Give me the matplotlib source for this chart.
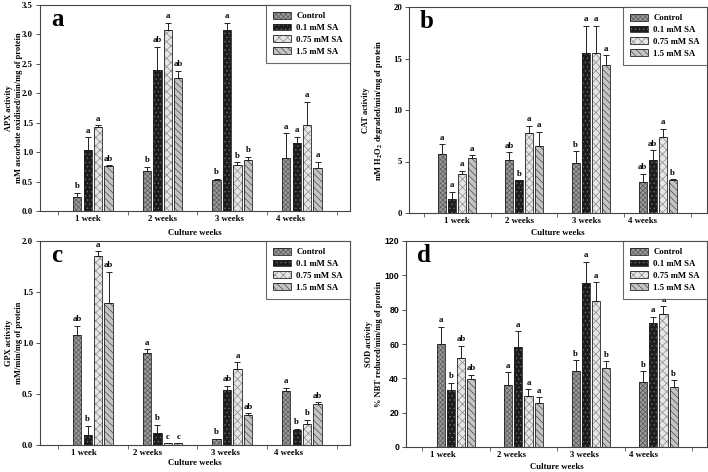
import numpy as np
import matplotlib
matplotlib.use("Agg")
import matplotlib.pyplot as plt

plt.rcParams['font.family'] = ['Liberation Serif', 'DejaVu Serif']
plt.rcParams['font.weight'] = 'bold'
plt.rcParams['mathtext.fontset'] = 'stix'
plt.rcParams['hatch.linewidth'] = 0.5

weeks = ["1 week", "2 weeks", "3 weeks", "4 weeks"]
treatments = ["Control", "0.1 mM SA", "0.75 mM SA", "1.5 mM SA"]

# rows = treatments, columns = weeks
apx_mean = [[0.23, 0.68, 0.52, 0.90],
            [1.03, 2.40, 3.08, 1.15],
            [1.43, 3.07, 0.79, 1.46],
            [0.76, 2.26, 0.87, 0.73]]
apx_err = [[0.08, 0.07, 0.03, 0.42],
           [0.22, 0.39, 0.12, 0.11],
           [0.03, 0.13, 0.04, 0.40],
           [0.02, 0.12, 0.05, 0.11]]
apx_letters = [["b", "b", "b", "a"],
               ["a", "ab", "a", "a"],
               ["a", "a", "b", "a"],
               ["ab", "ab", "b", "a"]]

cat_mean = [[5.7, 5.1, 4.85, 3.05],
            [1.4, 3.2, 15.5, 5.1],
            [3.8, 7.75, 15.5, 7.4],
            [5.35, 6.5, 14.4, 3.25]]
cat_err = [[1.0, 0.8, 1.15, 0.75],
           [0.65, 0.0, 2.7, 1.0],
           [0.3, 0.7, 2.7, 0.8],
           [0.25, 1.4, 0.9, 0.05]]
cat_letters = [["a", "ab", "b", "ab"],
               ["a", "b", "a", "ab"],
               ["a", "a", "a", "a"],
               ["a", "a", "a", "b"]]

gpx_mean = [[1.08, 0.90, 0.06, 0.53],
            [0.10, 0.12, 0.54, 0.15],
            [1.85, 0.02, 0.75, 0.21],
            [1.39, 0.015, 0.29, 0.40]]
gpx_err = [[0.09, 0.04, 0.0, 0.03],
           [0.09, 0.08, 0.04, 0.01],
           [0.05, 0.0, 0.06, 0.04],
           [0.31, 0.005, 0.02, 0.02]]
gpx_letters = [["ab", "a", "b", "a"],
               ["b", "b", "ab", "b"],
               ["a", "c", "a", "b"],
               ["ab", "c", "ab", "ab"]]

sod_mean = [[60, 36, 44, 38],
            [33, 58.5, 95.5, 72],
            [52, 30, 85, 77.5],
            [39.5, 25.5, 46, 35]]
sod_err = [[10, 7.5, 6.5, 6],
           [4.5, 9, 12.5, 4],
           [7, 3.5, 11, 4.5],
           [2.5, 3.5, 4, 4]]
sod_letters = [["a", "a", "b", "b"],
               ["b", "a", "a", "a"],
               ["ab", "a", "a", "a"],
               ["ab", "a", "b", "b"]]

faces = ['#9a9a9a', '#1c1c1c', '#e6e6e6', '#c4c4c4']
hatch_cols = ['#5a5a5a', '#6a6a6a', '#8a8a8a', '#4a4a4a']
hatches = ['xxxxxxx', '....', 'xxxx', '\\\\\\\\\\']
edge = '#222222'
fs = 6.3

W, H = 708, 472
fig = plt.figure(figsize=(W / 100, H / 100), dpi=100)


def px_axes(x0, x1, y0, y1):
    return fig.add_axes([x0 / W, 1 - y1 / H, (x1 - x0) / W, (y1 - y0) / H])


def panel(ax, mean, err, letters, ylim, ystep, yfmt, ylabel, tag, xlim, label_pos,
          sans_ticks=False, xlabelpad=4, ylabel_x=-0.07):
    x = np.arange(len(weeks))
    width = 0.12
    offs = [-0.225, -0.075, 0.075, 0.225]
    handles = []
    for i in range(len(treatments)):
        xs = x + offs[i]
        b1 = ax.bar(xs, mean[i], width, color=faces[i], edgecolor=hatch_cols[i],
                    hatch=hatches[i], linewidth=0)
        b2 = ax.bar(xs, mean[i], width, fill=False, edgecolor=edge, linewidth=0.6)
        ax.errorbar(xs, mean[i], yerr=[np.zeros(len(weeks)), err[i]], fmt='none',
                    ecolor=edge, elinewidth=0.7, capsize=2.5, capthick=0.7)
        for j in range(len(weeks)):
            ax.text(xs[j], mean[i][j] + err[i][j] + ylim * 0.012, letters[i][j],
                    ha='center', va='bottom', fontsize=fs, fontweight='bold')
        handles.append((b1.patches[0], b2.patches[0]))

    ax.set_ylim(0, ylim)
    ax.set_xlim(*xlim)
    ax.set_yticks(np.arange(0, ylim + ystep / 2, ystep))
    ax.yaxis.set_major_formatter(matplotlib.ticker.FormatStrFormatter(yfmt))
    ax.set_xticks(np.arange(-0.5, 4, 1.0))
    ax.set_xticklabels([])
    ax.set_xticks(label_pos, minor=True)
    ax.set_xticklabels(weeks, minor=True)
    ax.tick_params(axis='x', which='major', direction='out', length=3, width=0.6, color='#555555')
    ax.tick_params(axis='x', which='minor', length=0, labelsize=fs, pad=3)
    ax.tick_params(axis='y', direction='out', length=3, width=0.6, labelsize=fs, pad=2, color='#333333')
    if sans_ticks:
        for t in ax.get_yticklabels():
            t.set_family('Liberation Sans')
            t.set_fontweight('bold')
    for s in ax.spines.values():
        s.set_linewidth(0.8)
        s.set_color('#444444')
    ax.set_ylabel(ylabel, fontsize=6, fontweight='bold', linespacing=1.35)
    ax.yaxis.set_label_coords(ylabel_x, 0.5)
    ax.set_xlabel("Culture weeks", fontsize=fs, fontweight='bold', labelpad=xlabelpad)
    ax.text(0.035, 0.985, tag, transform=ax.transAxes, ha='left', va='top',
            fontsize=18, fontweight='bold')
    leg = ax.legend(handles, treatments, loc='upper right', borderaxespad=0.0,
                    fontsize=fs, fancybox=False, handlelength=2.1, handleheight=0.8,
                    labelspacing=0.38, borderpad=0.8, handletextpad=0.6)
    leg.get_frame().set_edgecolor('#444444')
    leg.get_frame().set_linewidth(0.8)
    for t in leg.get_texts():
        t.set_fontweight('bold')


ax_a = px_axes(40, 350, 5, 211)
panel(ax_a, apx_mean, apx_err, apx_letters, 3.5, 0.5, '%.1f',
      "APX activity\nmM ascorbate oxidised/min/mg of protein", 'a',
      (-0.76, 3.69), [-0.07, 1.0, 1.96, 2.83], ylabel_x=-0.056)

ax_b = px_axes(409, 707, 7, 213)
panel(ax_b, cat_mean, cat_err, cat_letters, 20, 5, '%d',
      "CAT activity\nmM H$_{\\mathbf{2}}$O$_{\\mathbf{2}}$ degraded/min/mg of protein", 'b',
      (-0.72, 3.74), [0.0, 0.94, 1.94, 2.77], xlabelpad=3, ylabel_x=-0.08)

ax_c = px_axes(40, 350, 241, 445)
panel(ax_c, gpx_mean, gpx_err, gpx_letters, 2.0, 0.5, '%.1f',
      "GPX activity\nmM/min/mg of protein", 'c',
      (-0.76, 3.69), [-0.13, 0.79, 1.9, 2.8], xlabelpad=1, ylabel_x=-0.056)

ax_d = px_axes(406, 707, 241, 447)
panel(ax_d, sod_mean, sod_err, sod_letters, 120, 20, '%d',
      "SOD activity\n% NBT reduced/min/mg of protein", 'd',
      (-0.74, 3.72), [-0.2, 0.83, 1.9, 2.78], sans_ticks=True, xlabelpad=3,
      ylabel_x=-0.076)

fig.savefig("out.png", dpi=100)
